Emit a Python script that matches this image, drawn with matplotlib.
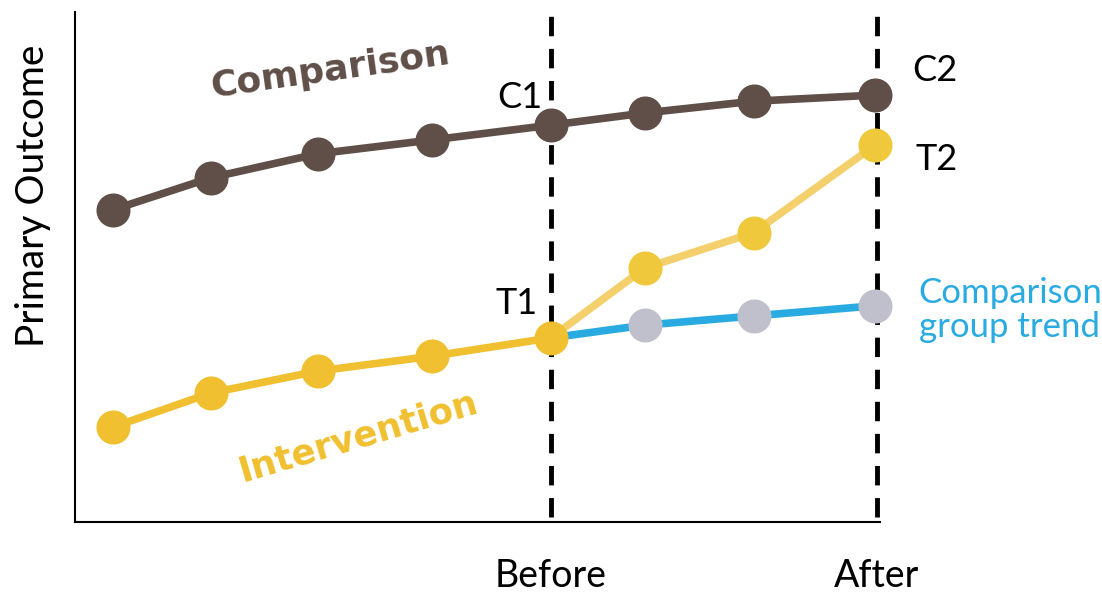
import matplotlib
matplotlib.use("Agg")
import matplotlib.pyplot as plt

# time positions (before line at 59.1, after line at 99.6)
time_all = [4.7, 16.9, 30.2, 44.3, 59.1, 70.8, 84.3, 99.4]
time_pre = [4.7, 16.9, 30.2, 44.3, 59.1]
time_post = [59.1, 70.8, 84.3, 99.4]
before_x = 59.1
after_x = 99.6

comparison = [61.2, 67.5, 72.2, 74.9, 77.8, 80.2, 82.5, 83.7]
intervention_pre = [18.6, 25.3, 29.6, 32.5, 36.1]
intervention_post = [36.1, 49.8, 56.7, 73.9]
comparison_trend = [36.1, 38.6, 40.4, 42.4]

tick_pos = [before_x, after_x]
tick_labels = ["Before", "After"]

brown = "#5f4f48"
yellow = "#f0c030"
yellow_light = "#f4d06c"
blue = "#29abe2"
grey = "#bfc0cc"

plt.rcParams['font.family'] = ['Lato', 'DejaVu Sans']

fig = plt.figure(figsize=(11.02, 5.97), dpi=100)
ax = fig.add_axes([0.068, 0.1256, 0.7305, 0.8544])

ms = 23.5
lw = 5.5

ax.plot(time_all, comparison, color=brown, lw=lw, marker="o", ms=ms, zorder=4, clip_on=False)
ax.plot(time_post, intervention_post, color=yellow_light, lw=lw, zorder=2, clip_on=False)
ax.plot(time_post[1:], intervention_post[1:], ls="none", marker="o", ms=ms, color="#efc93b", zorder=3, clip_on=False)
ax.plot(time_post, comparison_trend, color=blue, lw=lw, zorder=2, clip_on=False)
ax.plot(time_post[1:], comparison_trend[1:], ls="none", marker="o", ms=ms, color=grey, zorder=3, clip_on=False)
ax.plot(time_pre, intervention_pre, color=yellow, lw=lw, marker="o", ms=ms, zorder=4, clip_on=False)

for xv in tick_pos:
    ax.vlines(xv, 1, 100, colors="black", lw=3.5, linestyles=(0, (4, 2.6)), zorder=1)

ax.set_xlim(0, 100)
ax.set_ylim(0, 100)
ax.spines["top"].set_visible(False)
ax.spines["right"].set_visible(False)
ax.spines["left"].set_linewidth(1.5)
ax.spines["bottom"].set_linewidth(1.5)
ax.set_yticks([])
ax.set_xticks(tick_pos)
ax.set_xticklabels(tick_labels, fontsize=27)
ax.tick_params(axis="x", length=0, pad=26)

ax.set_ylabel("Primary Outcome", fontsize=28)
ax.yaxis.set_label_coords(-0.03, 0.64)

ax.text(31.7, 88.6, "Comparison", color=brown, fontsize=26, fontweight="bold",
        family="DejaVu Sans", rotation=8, ha="center", va="center")
ax.text(35.2, 16.7, "Intervention", color=yellow, fontsize=25.5, fontweight="bold",
        family="DejaVu Sans", rotation=16.5, ha="center", va="center")

ax.text(55.3, 83.3, "C1", fontsize=26, ha="center", va="center")
ax.text(106.8, 88.6, "C2", fontsize=26, ha="center", va="center", clip_on=False)
ax.text(107.1, 71.0, "T2", fontsize=26, ha="center", va="center", clip_on=False)
ax.text(54.9, 42.9, "T1", fontsize=26, ha="center", va="center")
ax.text(104.8, 41.6, "Comparison\ngroup trend", fontsize=25, color=blue,
        ha="left", va="center", linespacing=1.1, clip_on=False)

fig.savefig("out.png", dpi=100)
